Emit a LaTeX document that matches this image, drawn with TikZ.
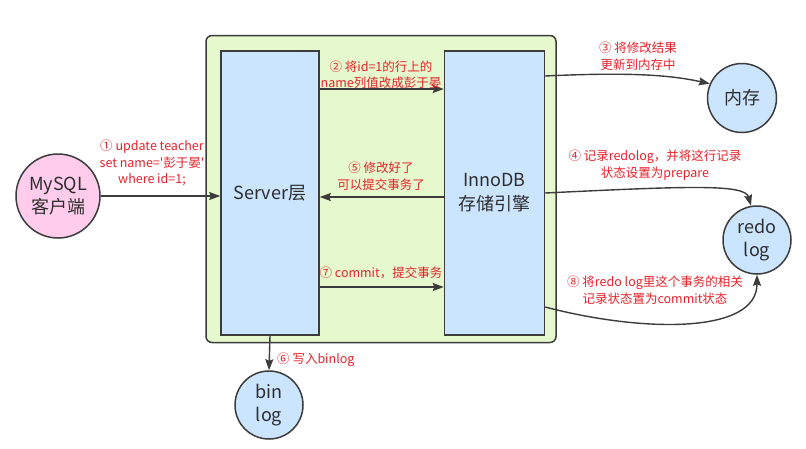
\documentclass[tikz,border=0pt]{standalone}
\usepackage{fontspec}
\setmainfont{Noto Sans CJK SC}[Ligatures=TeXOff]
\usetikzlibrary{arrows.meta}
\definecolor{greenfill}{RGB}{230,249,206}
\definecolor{bluefill}{RGB}{204,229,255}
\definecolor{pinkfill}{RGB}{255,204,236}
\definecolor{labelred}{RGB}{232,33,42}
\definecolor{edge}{RGB}{60,60,60}
\definecolor{txt}{RGB}{45,45,45}
\tikzset{
  outerbox/.style={draw=edge, line width=1.5pt, fill=greenfill, rounded corners=6pt, inner sep=0pt},
  engbox/.style={draw=edge, line width=1.5pt, fill=bluefill, inner sep=0pt, text=txt, font=\fontsize{18}{24}\selectfont, align=center},
  circnode/.style={draw=edge, line width=1.5pt, fill=bluefill, circle, inner sep=0pt, text=txt, font=\fontsize{18}{23}\selectfont, align=center},
  lbl/.style={text=labelred, font=\fontsize{12.5}{16.5}\selectfont, align=center, inner sep=0pt},
  arr/.style={draw=edge, line width=1.4pt, -{Stealth[length=11pt,width=8pt,inset=1.5pt]}}
}
\begin{document}
\begin{tikzpicture}[x=1pt,y=-1pt]
\useasboundingbox (0,0) rectangle (806,448);
\fill[white] (0,0) rectangle (806,448);

\node[outerbox, minimum width=350pt, minimum height=307pt] (outer) at (381,189) {};
\node[engbox, minimum width=98pt, minimum height=284pt] (server) at (270,193) {Server层};
\node[engbox, minimum width=100pt, minimum height=284pt] (innodb) at (494.5,193) {InnoDB\\存储引擎};

\node[circnode, fill=pinkfill, minimum size=84pt] (client) at (58,196) {MySQL\\客户端};
\node[circnode, minimum size=69pt] (mem) at (742,98) {内存};
\node[circnode, minimum size=68pt] (redo) at (757,240) {redo\\log};
\node[circnode, minimum size=68pt] (binlog) at (269,405) {bin\\log};

\draw[arr] (client.east) -- (server.west |- client.east);
\draw[arr] (server.east |- 0,89) -- (innodb.west |- 0,89);
\draw[arr] (innodb.west |- 0,197) -- (server.east |- 0,197);
\draw[arr] (server.east |- 0,287) -- (innodb.west |- 0,287);
\draw[arr] (innodb.east |- 0,76) .. controls (630,72) and (670,75) .. (mem.156);
\draw[arr] (innodb.east |- 0,193) .. controls (690,186) and (745,184) .. (redo.100);
\draw[arr] (innodb.east |- 0,307) .. controls (640,332) and (757,335) .. (redo.south);
\draw[arr] (server.south) -- (binlog.north);

\node[lbl] (l1) at (152,163) {① update teacher\\set name='彭于晏'\\where id=1;};
\node[lbl] (l2) at (381,75) {② 将id=1的行上的\\name列值改成彭于晏};
\node[lbl] (l5) at (381,176) {⑤ 修改好了\\可以提交事务了};
\node[lbl] (l7) at (381,273) {⑦ commit，提交事务};
\node[lbl] (l3) at (638,56) {③ 将修改结果\\更新到内存中};
\node[lbl] (l4) at (655,165) {④ 记录redolog，并将这行记录\\状态设置为prepare};
\node[lbl] (l8) at (655,290) {⑧ 将redo log里这个事务的相关\\记录状态置为commit状态};
\node[lbl, anchor=west] (l6) at (277,360) {⑥ 写入binlog};
\end{tikzpicture}
\end{document}
